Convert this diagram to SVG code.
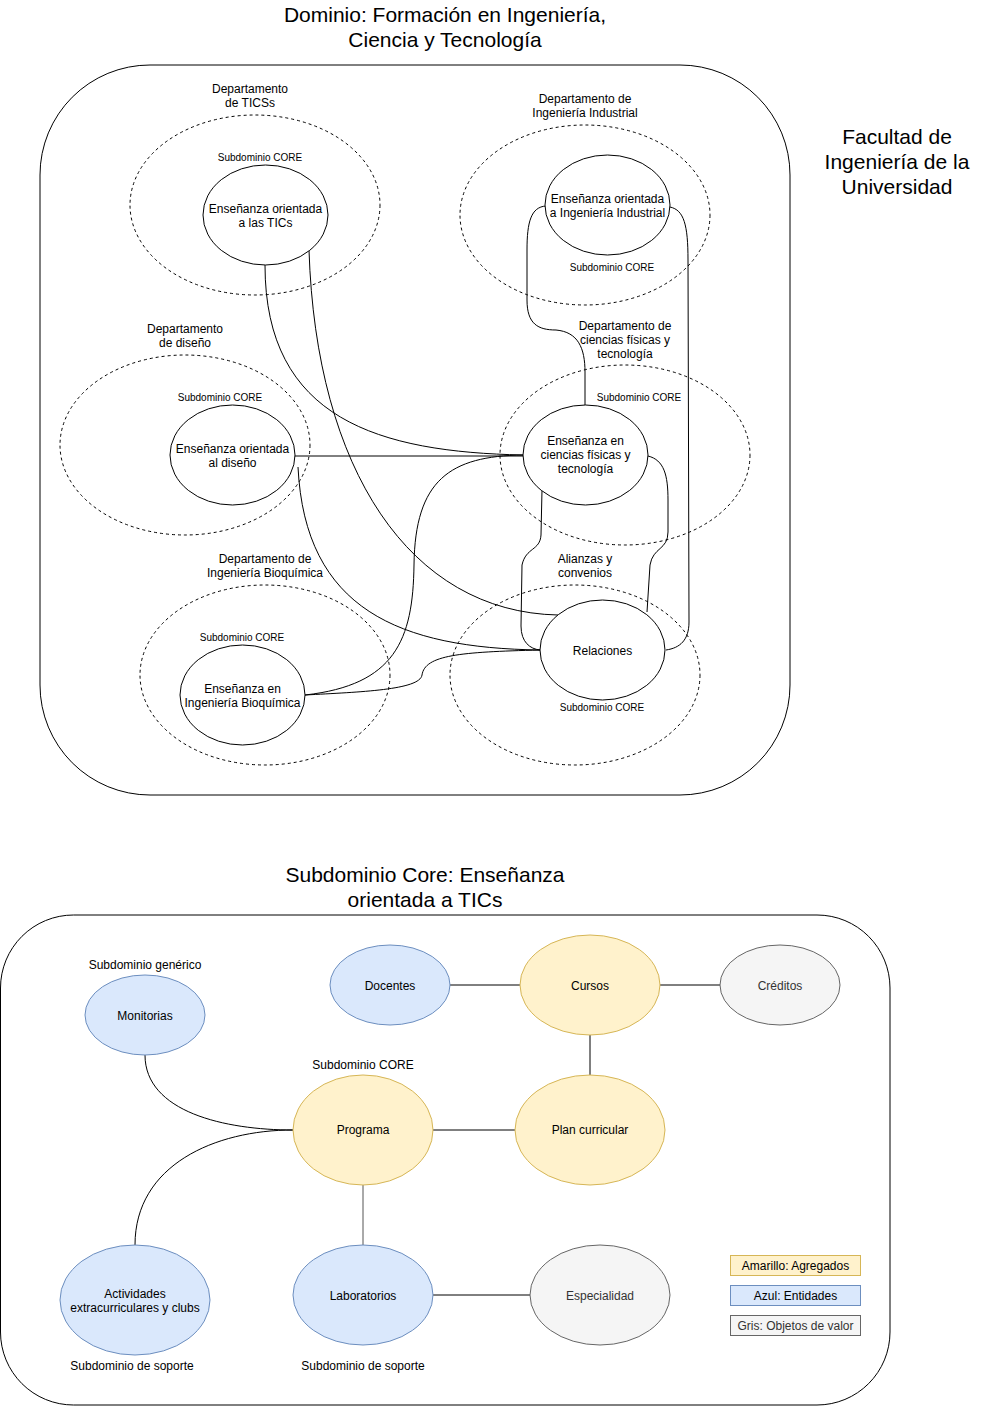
<svg xmlns="http://www.w3.org/2000/svg" width="986" height="1406" viewBox="0 0 986 1406">
<style>
text{font-family:"Liberation Sans",Arial,sans-serif;fill:#000;text-anchor:middle;dominant-baseline:central}
.t20{font-size:21px}
.t12{font-size:12px}
.t10{font-size:10px}
.gt{fill:#333333}
.frame{fill:#fff;stroke:#000;stroke-width:1}
.dept{fill:none;stroke:#000;stroke-width:1;stroke-dasharray:3 3}
.node{fill:#fff;stroke:#000;stroke-width:1}
.blue{fill:#dae8fc;stroke:#6c8ebf;stroke-width:1}
.yel{fill:#fff2cc;stroke:#d6b656;stroke-width:1}
.gray{fill:#f5f5f5;stroke:#666666;stroke-width:1}
.edge{fill:none;stroke:#000;stroke-width:1}
</style>
<rect width="986" height="1406" fill="#fff"/>

<!-- Top frame -->
<g id="dominio">
<rect class="frame" x="40" y="65" width="750" height="730" rx="110" ry="110"/>
<text class="t20" x="445" y="14">Dominio: Formación en Ingeniería,</text>
<text class="t20" x="445" y="39">Ciencia y Tecnología</text>
</g>
<g id="facultad">
<text class="t20" x="897" y="136">Facultad de</text>
<text class="t20" x="897" y="161">Ingeniería de la</text>
<text class="t20" x="897" y="186">Universidad</text>
</g>

<!-- Departments -->
<g id="dep-tics">
<ellipse class="dept" cx="255" cy="205" rx="125" ry="90"/>
<text class="t12" x="250" y="89">Departamento</text>
<text class="t12" x="250" y="103">de TICSs</text>
</g>
<g id="dep-industrial">
<ellipse class="dept" cx="585" cy="215" rx="125" ry="90"/>
<text class="t12" x="585" y="99">Departamento de</text>
<text class="t12" x="585" y="113">Ingeniería Industrial</text>
</g>
<g id="dep-diseno">
<ellipse class="dept" cx="185" cy="445" rx="125" ry="90"/>
<text class="t12" x="185" y="329">Departamento</text>
<text class="t12" x="185" y="343">de diseño</text>
</g>
<g id="dep-ciencias">
<ellipse class="dept" cx="625" cy="455" rx="125" ry="90"/>
<text class="t12" x="625" y="326">Departamento de</text>
<text class="t12" x="625" y="340">ciencias físicas y</text>
<text class="t12" x="625" y="354">tecnología</text>
</g>
<g id="dep-bioquimica">
<ellipse class="dept" cx="265" cy="675" rx="125" ry="90"/>
<text class="t12" x="265" y="559">Departamento de</text>
<text class="t12" x="265" y="573">Ingeniería Bioquímica</text>
</g>
<g id="dep-alianzas">
<ellipse class="dept" cx="575" cy="675" rx="125" ry="90"/>
<text class="t12" x="585" y="559">Alianzas y</text>
<text class="t12" x="585" y="573">convenios</text>
</g>

<!-- Top connectors -->
<g id="connectors-top">
<path class="edge" d="M265 265 C265 420 380 452 523 455"/>
<path class="edge" d="M309 250 C316 470 410 612 558 615"/>
<path class="edge" d="M295 456 L523 456"/>
<path class="edge" d="M298 467 C305 610 400 648 540 650"/>
<path class="edge" d="M305 695 C360 692 420 690 422 675 C425 655 460 652 540 650"/>
<path class="edge" d="M305 695 C395 685 413 640 414 565 C415 480 450 456 523 455"/>
<path class="edge" d="M546 206 C531 207 527 222 527 250 L527 300 C527 324 538 330 556 330 C578 332 585 348 585 372 L585 405"/>
<path class="edge" d="M670 207 C684 210 688 225 688 260 L689 622 C689 640 680 648 666 650"/>
<path class="edge" d="M648 456 C664 460 668 475 668 500 L668 532 C668 550 653 547 650 565 L647 612"/>
<path class="edge" d="M542 490 L541 535 C540 551 526 547 522 565 L521 626 C521 642 530 649 540 650"/>
</g>

<!-- Top nodes -->
<g id="core-tics">
<ellipse class="node" cx="265.5" cy="215" rx="62.5" ry="50"/>
<text class="t12" x="265.5" y="209">Enseñanza orientada</text>
<text class="t12" x="265.5" y="223">a las TICs</text>
<text class="t10" x="260" y="157">Subdominio CORE</text>
</g>
<g id="core-industrial">
<ellipse class="node" cx="607.5" cy="205" rx="62.5" ry="50"/>
<text class="t12" x="607.5" y="199">Enseñanza orientada</text>
<text class="t12" x="607.5" y="213">a Ingeniería Industrial</text>
<text class="t10" x="612" y="267">Subdominio CORE</text>
</g>
<g id="core-diseno">
<ellipse class="node" cx="232.5" cy="455" rx="62.5" ry="50"/>
<text class="t12" x="232.5" y="449">Enseñanza orientada</text>
<text class="t12" x="232.5" y="463">al diseño</text>
<text class="t10" x="220" y="397">Subdominio CORE</text>
</g>
<g id="core-ciencias">
<ellipse class="node" cx="585.5" cy="455" rx="62.5" ry="50"/>
<text class="t12" x="585.5" y="441">Enseñanza en</text>
<text class="t12" x="585.5" y="455">ciencias físicas y</text>
<text class="t12" x="585.5" y="469">tecnología</text>
<text class="t10" x="639" y="397">Subdominio CORE</text>
</g>
<g id="core-bioquimica">
<ellipse class="node" cx="242.5" cy="695" rx="62.5" ry="50"/>
<text class="t12" x="242.5" y="689">Enseñanza en</text>
<text class="t12" x="242.5" y="703">Ingeniería Bioquímica</text>
<text class="t10" x="242" y="637">Subdominio CORE</text>
</g>
<g id="core-relaciones">
<ellipse class="node" cx="602.5" cy="650" rx="62.5" ry="50"/>
<text class="t12" x="602.5" y="651">Relaciones</text>
<text class="t10" x="602" y="707">Subdominio CORE</text>
</g>

<!-- Bottom frame -->
<g id="subdominio-core">
<rect class="frame" x="0.5" y="915" width="889.5" height="490" rx="73" ry="73"/>
<text class="t20" x="425" y="874">Subdominio Core: Enseñanza</text>
<text class="t20" x="425" y="899">orientada a TICs</text>
</g>

<g id="connectors-bottom">
<path class="edge" d="M450 985 L520 985"/>
<path class="edge" d="M660 985 L720 985"/>
<path class="edge" d="M590 1035 L590 1075"/>
<path class="edge" d="M433 1130 L515 1130"/>
<path class="edge" d="M145 1055 C145 1112 225 1130 293 1130"/>
<path class="edge" d="M135 1245 C135 1165 215 1130 293 1130"/>
<path class="edge" style="stroke:#555" d="M363 1185 L363 1245"/>
<path class="edge" d="M433 1295 L530 1295"/>
</g>

<g id="monitorias">
<ellipse class="blue" cx="145" cy="1015" rx="60" ry="40"/>
<text class="t12" x="145" y="1016">Monitorias</text>
<text class="t12" x="145" y="965">Subdominio genérico</text>
</g>
<g id="docentes">
<ellipse class="blue" cx="390" cy="985" rx="60" ry="40"/>
<text class="t12" x="390" y="986">Docentes</text>
</g>
<g id="cursos">
<ellipse class="yel" cx="590" cy="985" rx="70" ry="50"/>
<text class="t12" x="590" y="986">Cursos</text>
</g>
<g id="creditos">
<ellipse class="gray" cx="780" cy="985" rx="60" ry="40"/>
<text class="t12 gt" x="780" y="986">Créditos</text>
</g>
<g id="programa">
<ellipse class="yel" cx="363" cy="1130" rx="70" ry="55"/>
<text class="t12" x="363" y="1130">Programa</text>
<text class="t12" x="363" y="1065">Subdominio CORE</text>
</g>
<g id="plan-curricular">
<ellipse class="yel" cx="590" cy="1130" rx="75" ry="55"/>
<text class="t12" x="590" y="1130">Plan curricular</text>
</g>
<g id="actividades">
<ellipse class="blue" cx="135" cy="1300" rx="75" ry="55"/>
<text class="t12" x="135" y="1294">Actividades</text>
<text class="t12" x="135" y="1308">extracurriculares y clubs</text>
<text class="t12" x="132" y="1366">Subdominio de soporte</text>
</g>
<g id="laboratorios">
<ellipse class="blue" cx="363" cy="1295" rx="70" ry="50"/>
<text class="t12" x="363" y="1296">Laboratorios</text>
<text class="t12" x="363" y="1366">Subdominio de soporte</text>
</g>
<g id="especialidad">
<ellipse class="gray" cx="600" cy="1295" rx="70" ry="50"/>
<text class="t12 gt" x="600" y="1296">Especialidad</text>
</g>

<g id="legend">
<rect class="yel" x="730.5" y="1255.5" width="130" height="20"/>
<text class="t12" x="795.5" y="1266">Amarillo: Agregados</text>
<rect class="blue" x="730.5" y="1285.5" width="130" height="20"/>
<text class="t12" x="795.5" y="1296">Azul: Entidades</text>
<rect class="gray" x="730.5" y="1315.5" width="130" height="20"/>
<text class="t12 gt" x="795.5" y="1326">Gris: Objetos de valor</text>
</g>
</svg>
